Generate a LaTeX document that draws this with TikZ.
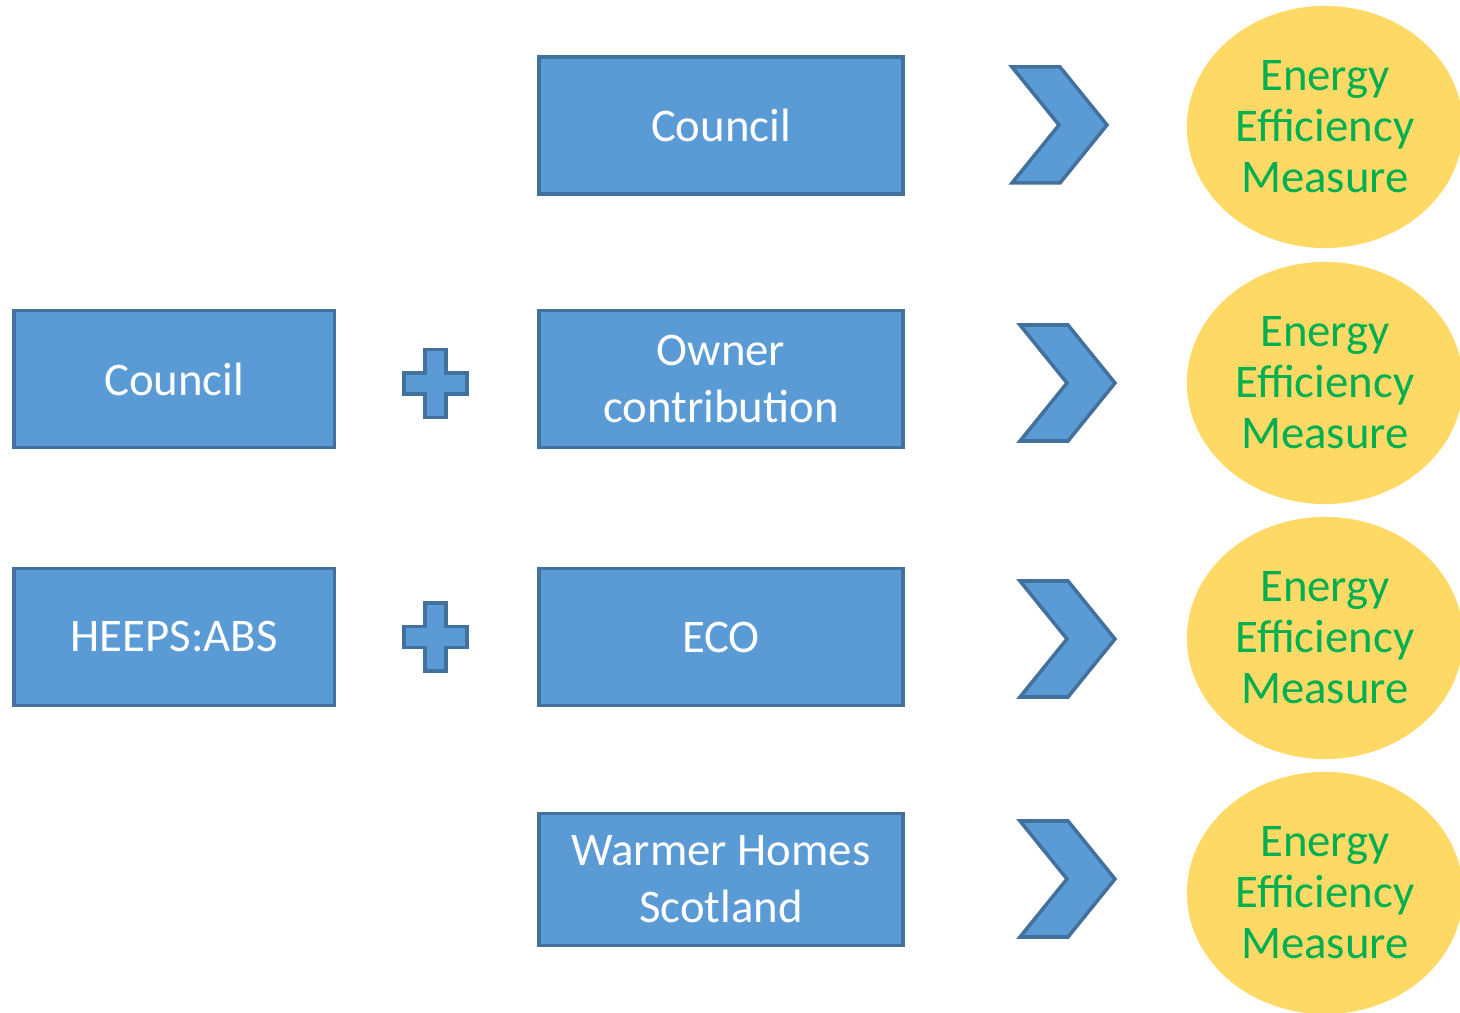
\documentclass[tikz,border=0pt]{standalone}
\usepackage{fontspec}
\setmainfont{Carlito}
\usepackage{xcolor}
\usetikzlibrary{shapes,positioning,calc}
\definecolor{boxblue}{RGB}{91,155,213}
\definecolor{boxline}{RGB}{65,113,156}
\definecolor{eemyellow}{RGB}{255,217,102}
\definecolor{eemgreen}{RGB}{0,176,80}
\tikzset{
    fund-box/.style={
        rectangle,
        draw=boxline,
        fill=boxblue,
        line width=1pt,
        text=white,
        minimum width=3.64cm,
        minimum height=1.37cm,
        align=center,
        font=\fontsize{13.3}{16.3}\selectfont
    },
    side-box/.style={
        fund-box,
        minimum width=3.2cm
    },
    eem-ellipse/.style={
        ellipse,
        fill=eemyellow,
        minimum width=2.76cm,
        minimum height=2.42cm,
        inner sep=0pt,
        text=eemgreen,
        align=center,
        font=\fontsize{13.3}{14.5}\selectfont
    },
    sign-shape/.style={
        draw=boxline,
        fill=boxblue,
        line width=1pt
    }
}

\begin{document}
\begin{tikzpicture}[x=0.01cm,y=-0.01cm]
       \useasboundingbox (0,0) rectangle (1460,1013);

       \node[fund-box] (council) at (721,125.5) {Council};
       \node[fund-box] (owner) at (721,379) {Owner\\contribution};
       \node[fund-box] (eco) at (721,637) {ECO};
       \node[fund-box,minimum height=1.32cm] (warmer) at (721,879.5) {Warmer Homes\\Scotland};
       \node[side-box,left=2.01cm of owner] (council2) {Council};
       \node[side-box,left=2.01cm of eco] (heeps) {HEEPS:ABS};

       % plus signs
       \foreach \py in {383.5,637}
           \draw[sign-shape] (425,\py-34) -- (446,\py-34) -- (446,\py-10.5) -- (467,\py-10.5)
               -- (467,\py+10.5) -- (446,\py+10.5) -- (446,\py+34) -- (425,\py+34)
               -- (425,\py+10.5) -- (404,\py+10.5) -- (404,\py-10.5) -- (425,\py-10.5) -- cycle;

       % chevrons
       \foreach \cx/\cy in {1012/125,1020/383,1020/639,1020/879}
           \draw[sign-shape] (\cx,\cy-58) -- ++(48,0) -- ++(47,58) -- ++(-47,58)
               -- ++(-48,0) -- ++(47,-58) -- cycle;

       \foreach \ey/\name in {127/eem1,383/eem2,638/eem3,893/eem4}
           \node[eem-ellipse] (\name) at (1325,\ey) {Energy\\Efficiency\\Measure};
   \end{tikzpicture}
\end{document}
